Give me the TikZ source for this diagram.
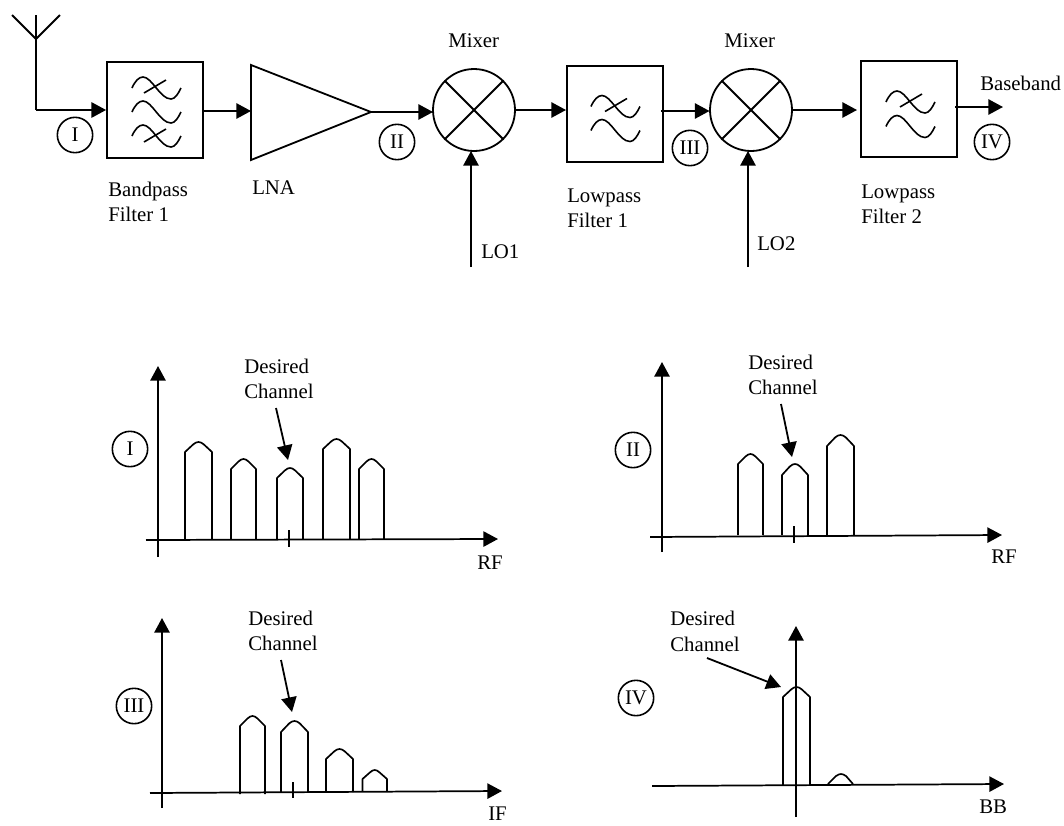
\documentclass[tikz,border=0pt]{standalone}
\usepackage{fontspec}
\setmainfont{Liberation Serif}
\usetikzlibrary{arrows.meta}
\tikzset{
  x=0.75pt,y=-0.75pt,
  wire/.style={line width=1.35pt,line join=miter},
  conn/.style={wire,-{Triangle[length=11pt,width=11.5pt]}},
  lbl/.style={font=\fontsize{15.6pt}{18pt}\selectfont,inner sep=0pt,anchor=base west,align=left},
  tag/.style={circle,draw,line width=1.2pt,minimum size=26.5pt,inner sep=0pt,font=\fontsize{15.6pt}{18pt}\selectfont},
  blockbox/.style={draw,line width=1.35pt,inner sep=0pt,minimum size=72pt},
  mixernode/.style={circle,draw,line width=1.35pt,inner sep=0pt,minimum size=61.5pt},
  axisline/.style={line width=1.3pt,-{Triangle[length=11pt,width=11.5pt]}},
  pulseline/.style={line width=1.25pt,line join=round},
}
\newcommand{\wavesym}[2]{%
  \draw[line width=1.2pt,shift={(#1,#2)}] (0,0) .. controls (3,-7) and (7,-11) .. (11,-11)
     .. controls (20,-11) and (28,11) .. (39,11) .. controls (43,11) and (46,6) .. (49,0);}
\newcommand{\waveslash}[2]{%
  \draw[line width=1.2pt,shift={(#1,#2)}] (0,0) -- (22,-13);}
% left, right, shoulder y, peak y, base y
\newcommand{\pulse}[5]{%
  \draw[pulseline] (#1,#5) -- (#1,#3) -- ({#1+(#2-#1)*0.3},{#4+2.5}) .. controls ({#1+(#2-#1)*0.38},{#4+0.6}) and ({#1+(#2-#1)*0.44},#4) ..
    ({(#1+#2)/2},#4) .. controls ({#1+(#2-#1)*0.56},#4) and ({#1+(#2-#1)*0.62},{#4+0.6}) .. ({#1+(#2-#1)*0.7},{#4+2.5}) -- (#2,#3) -- (#2,#5);}
\begin{document}
\begin{tikzpicture}
\useasboundingbox (0,0) rectangle (1064,825);
% antenna
\coordinate (antL) at (12,15); \coordinate (antR) at (60,15);
\coordinate (antV) at (36,39); \coordinate (antT) at (36,15); \coordinate (antB) at (36,110);
\draw[wire] (antL) -- (antV) -- (antR);
\draw[wire] (antT) -- (antB);
% blocks
\node[blockbox] (bp) at (155,110) {};
\node[blockbox] (lp1) at (615,114) {};
\node[blockbox] (lp2) at (909,109) {};
\draw[wire] (251,65) -- (251,160) -- (371,112) -- cycle;
\coordinate (lnaIn) at (251,111); \coordinate (lnaOut) at (371,112);
\node[mixernode] (m1) at (474,110) {};
\node[mixernode] (m2) at (751,110) {};
\foreach \m in {m1,m2} {
  \draw[wire] (\m.45) -- (\m.225);
  \draw[wire] (\m.135) -- (\m.315);
}
% filter symbols
\wavesym{132}{88}\waveslash{144}{93}
\wavesym{132}{112}
\wavesym{132}{136}\waveslash{144}{142}
\wavesym{591}{106.5}\waveslash{605}{111.5}
\wavesym{591}{130.5}
\wavesym{886}{102}\waveslash{900}{107}
\wavesym{886}{126.5}
% connectors
\draw[conn] (antB) -- (bp.west |- antB);
\coordinate (bpOut) at (203,111);
\draw[conn] (bpOut) -- (lnaIn);
\coordinate (m1In) at (433,112);
\draw[conn] (lnaOut) -- (m1In);
\coordinate (m1Out) at (515,110); \coordinate (lp1In) at (566,110);
\draw[conn] (m1Out) -- (lp1In);
\coordinate (lp1Out) at (661,111); \coordinate (m2In) at (709.5,111);
\draw[conn] (lp1Out) -- (m2In);
\coordinate (m2Out) at (793,110); \coordinate (lp2In) at (857,110);
\draw[conn] (m2Out) -- (lp2In);
\coordinate (lp2Out) at (955,107); \coordinate (bbEnd) at (1003,107);
\draw[conn] (lp2Out) -- (bbEnd);
\coordinate (lo1) at (471,267); \coordinate (lo1In) at (471,151);
\draw[conn] (lo1) -- (lo1In);
\coordinate (lo2) at (748,267); \coordinate (lo2In) at (748,151);
\draw[conn] (lo2) -- (lo2In);
% top tags
\node[tag] (tI) at (75,135) {I};
\node[tag] (tII) at (397,142) {II};
\node[tag] (tIII) at (690,148) {III};
\node[tag] (tIV) at (992,142) {IV};
% top labels
\node[lbl] (lbp) at (108,196) {Bandpass};
\node[lbl] (lbp2) at (108,221) {Filter 1};
\node[lbl] (llna) at (252,194) {LNA};
\node[lbl] (lm1) at (448,47) {Mixer};
\node[lbl] (lm2) at (724,47) {Mixer};
\node[lbl] (llp1) at (567,202) {Lowpass};
\node[lbl] (llp1b) at (567,227) {Filter 1};
\node[lbl] (llp2) at (861,198) {Lowpass};
\node[lbl] (llp2b) at (861,223) {Filter 2};
\node[lbl] (llo1) at (481,258) {LO1};
\node[lbl] (llo2) at (757,250) {LO2};
\node[lbl] (lbb) at (980,90) {Baseband};
% Plot I
\coordinate (a1b) at (158,557); \coordinate (a1t) at (158,366);
\coordinate (a1l) at (146,540); \coordinate (a1r) at (498,539);
\draw[axisline] (a1b) -- (a1t);
\draw[axisline] (a1l) -- (a1r);
\draw[line width=1.2pt] (289,530) -- (289,547);
\pulse{185}{212}{452}{442}{539}
\pulse{231}{256}{469}{459}{539}
\pulse{277}{303}{478}{468}{539}
\pulse{323}{350}{449}{439}{539}
\pulse{359}{384}{469}{459}{539}
\node[tag] (pI) at (130,449) {I};
\node[lbl] (d1) at (244,373) {Desired};
\node[lbl] (c1) at (244,398) {Channel};
\coordinate (ar1s) at (276,408); \coordinate (ar1e) at (288,460);
\draw[conn] (ar1s) -- (ar1e);
\node[lbl] (rf1) at (477,569) {RF};
% Plot II
\coordinate (a2b) at (662,552); \coordinate (a2t) at (662,362);
\coordinate (a2l) at (650,537); \coordinate (a2r) at (1002,535);
\draw[axisline] (a2b) -- (a2t);
\draw[axisline] (a2l) -- (a2r);
\draw[line width=1.2pt] (794,526) -- (794,543);
\pulse{738}{763}{464}{454}{535}
\pulse{782}{808}{475}{464}{535}
\pulse{827}{854}{446}{435}{535}
\node[tag] (pII) at (633,450) {II};
\node[lbl] (d2) at (748,369) {Desired};
\node[lbl] (c2) at (748,394) {Channel};
\coordinate (ar2s) at (781,404); \coordinate (ar2e) at (792,457);
\draw[conn] (ar2s) -- (ar2e);
\node[lbl] (rf2) at (991,563) {RF};
% Plot III
\coordinate (a3b) at (162,808); \coordinate (a3t) at (162,618);
\coordinate (a3l) at (150,793); \coordinate (a3r) at (502,791);
\draw[axisline] (a3b) -- (a3t);
\draw[axisline] (a3l) -- (a3r);
\draw[line width=1.2pt] (293,782) -- (293,798);
\pulse{240}{265}{726}{716}{794}
\pulse{281}{308}{732}{721}{792}
\pulse{326}{353}{759}{749}{792}
\pulse{362.5}{387}{779}{770}{791}
\node[tag] (pIII) at (134,706) {III};
\node[lbl] (d3) at (248,625) {Desired};
\node[lbl] (c3) at (248,650) {Channel};
\coordinate (ar3s) at (281,660); \coordinate (ar3e) at (292,712);
\draw[conn] (ar3s) -- (ar3e);
\node[lbl] (if) at (488,820) {IF};
% Plot IV
\coordinate (a4b) at (796,817); \coordinate (a4t) at (796,626);
\coordinate (a4l) at (652,786); \coordinate (a4r) at (1004,784);
\draw[axisline] (a4b) -- (a4t);
\draw[axisline] (a4l) -- (a4r);
\draw[line width=1.6pt] (796,748) -- (796,765);
\pulse{783}{810}{697}{687}{785}
\draw[pulseline] (828,784) -- (836,776) .. controls (838,774.5) and (840,774) .. (841,774) .. controls (842,774) and (844,774.5) .. (846,776) -- (853,784);
\node[tag] (pIV) at (636,698) {IV};
\node[lbl] (d4) at (670,625) {Desired};
\node[lbl] (c4) at (670,651) {Channel};
\coordinate (ar4s) at (707,658); \coordinate (ar4e) at (781,687);
\draw[conn] (ar4s) -- (ar4e);
\node[lbl] (bb) at (979,813) {BB};
\end{tikzpicture}
\end{document}
